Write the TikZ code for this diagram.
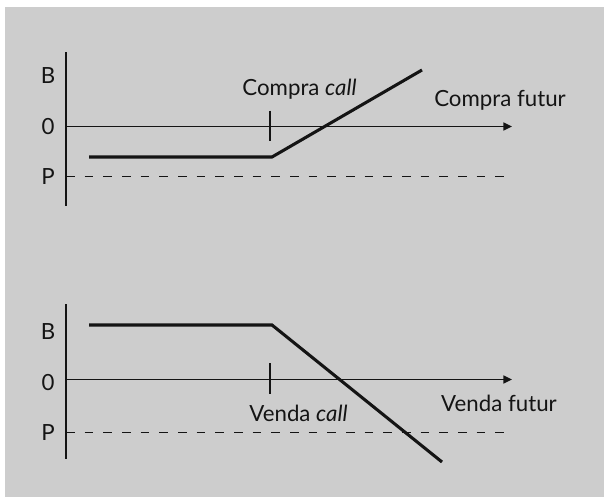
\documentclass[tikz,border=0pt]{standalone}
\usepackage{fontspec}
\setmainfont{Lato}
\usetikzlibrary{arrows.meta}
\definecolor{bgray}{RGB}{205,205,205}
\definecolor{ink}{RGB}{20,20,20}
\begin{document}
\begin{tikzpicture}[x=0.75pt,y=-0.75pt,
  axis/.style={line width=1.1pt,draw=ink},
  axisarrow/.style={axis,-{Triangle[length=6.5pt,width=6pt]}},
  payoff/.style={line width=2.3pt,draw=ink,line join=miter},
  tickmark/.style={line width=1.1pt,draw=ink},
  lvl/.style={line width=0.85pt,draw=ink,dash pattern=on 6.5pt off 7.5pt},
  lab/.style={anchor=base,inner sep=0pt,text=ink,font=\fontsize{16.7}{19}\selectfont}]
\useasboundingbox (0,0) rectangle (604,497);
\fill[bgray] (4.5,6.5) rectangle (604,497);
% ---- top panel
\coordinate (tAt) at (66,52);
\coordinate (tAb) at (66,206);
\coordinate (tO) at (66,126.5);
\coordinate (tX) at (512,126.5);
\coordinate (tTa) at (270,110.5);
\coordinate (tTb) at (270,140.5);
\coordinate (tP1) at (89,157);
\coordinate (tK) at (272,157);
\coordinate (tE) at (422,70);
\coordinate (tD1) at (66,176.5);
\coordinate (tD2) at (505,176.5);
\draw[axis] (tAt) -- (tAb);
\draw[axisarrow] (tO) -- (tX);
\draw[tickmark] (tTa) -- (tTb);
\draw[lvl] (tD1) -- (tD2);
\draw[payoff] (tP1) -- (tK) -- (tE);
\node[lab] (tB) at (48,83.3) {B};
\node[lab] (t0) at (48,134) {0};
\node[lab] (tPl) at (48,184) {P};
\node[lab] (tcall) at (299.5,95.7) {Compra \textit{call}};
\node[lab] (tfut) at (500,106) {Compra futur};
% ---- bottom panel
\coordinate (bAt) at (66,304);
\coordinate (bAb) at (66,459);
\coordinate (bO) at (66,379.5);
\coordinate (bX) at (512,379.5);
\coordinate (bTa) at (270,363);
\coordinate (bTb) at (270,394);
\coordinate (bP1) at (89,325);
\coordinate (bK) at (272,325);
\coordinate (bE) at (442,462);
\coordinate (bD1) at (66,432.5);
\coordinate (bD2) at (505,432.5);
\draw[axis] (bAt) -- (bAb);
\draw[axisarrow] (bO) -- (bX);
\draw[tickmark] (bTa) -- (bTb);
\draw[lvl] (bD1) -- (bD2);
\draw[payoff] (bP1) -- (bK) -- (bE);
\node[lab] (bB) at (48,339) {B};
\node[lab] (b0) at (48,390) {0};
\node[lab] (bPl) at (48,440) {P};
\node[lab] (bcall) at (298.5,421.7) {Venda \textit{call}};
\node[lab] (bfut) at (499,411) {Venda futur};
\end{tikzpicture}
\end{document}
